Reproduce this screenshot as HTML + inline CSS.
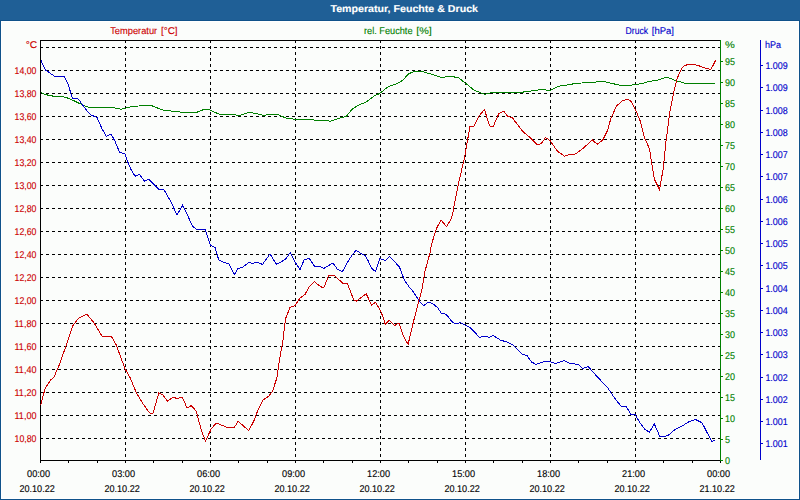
<!DOCTYPE html>
<html><head><meta charset="utf-8"><style>
html,body{margin:0;padding:0;background:#fff;}
svg{display:block;font-family:"Liberation Sans", sans-serif;text-rendering:geometricPrecision;}
</style></head><body>
<svg width="800" height="500" viewBox="0 0 800 500">
<rect x="0" y="0" width="800" height="500" fill="#ffffff"/>
<rect x="2" y="22" width="796" height="476" fill="#fbfdfb"/>
<rect x="0" y="0" width="800" height="20" fill="#1f5f96"/>
<rect x="0" y="20" width="800" height="1" fill="#0f528a"/>
<rect x="0" y="20" width="1" height="480" fill="#0f528a"/>
<rect x="799" y="20" width="1" height="480" fill="#0f528a"/>
<rect x="0" y="499" width="800" height="1" fill="#0f528a"/>
<text x="330.5" y="12" fill="#ffffff" stroke="#ffffff" stroke-width="0.12" font-size="10" font-weight="bold" text-anchor="start" textLength="147.5" lengthAdjust="spacingAndGlyphs">Temperatur, Feuchte &amp; Druck</text>
<text x="110.2" y="34" fill="#cc0000" stroke="#cc0000" stroke-width="0.12" font-size="9.8" font-weight="normal" text-anchor="start" textLength="47" lengthAdjust="spacingAndGlyphs">Temperatur</text>
<text x="161" y="34" fill="#cc0000" stroke="#cc0000" stroke-width="0.12" font-size="9.8" font-weight="normal" text-anchor="start" textLength="16.6" lengthAdjust="spacingAndGlyphs">[°C]</text>
<text x="364" y="34" fill="#008000" stroke="#008000" stroke-width="0.12" font-size="9.8" font-weight="normal" text-anchor="start" textLength="48.5" lengthAdjust="spacingAndGlyphs">rel. Feuchte</text>
<text x="416.2" y="34" fill="#008000" stroke="#008000" stroke-width="0.12" font-size="9.8" font-weight="normal" text-anchor="start" textLength="15.6" lengthAdjust="spacingAndGlyphs">[%]</text>
<text x="625.5" y="34" fill="#0000cc" stroke="#0000cc" stroke-width="0.12" font-size="9.8" font-weight="normal" text-anchor="start" textLength="22.6" lengthAdjust="spacingAndGlyphs">Druck</text>
<text x="651.8" y="34" fill="#0000cc" stroke="#0000cc" stroke-width="0.12" font-size="9.8" font-weight="normal" text-anchor="start" textLength="22.2" lengthAdjust="spacingAndGlyphs">[hPa]</text>
<path d="M40 47.5H720 M40 70.5H720 M40 93.5H720 M40 116.5H720 M40 139.5H720 M40 162.5H720 M40 185.5H720 M40 208.5H720 M40 231.5H720 M40 254.5H720 M40 277.5H720 M40 300.5H720 M40 323.5H720 M40 346.5H720 M40 369.5H720 M40 392.5H720 M40 415.5H720 M40 438.5H720 M125.5 40V460 M210.5 40V460 M295.5 40V460 M380.5 40V460 M465.5 40V460 M550.5 40V460 M635.5 40V460" stroke="#000" stroke-width="1" stroke-dasharray="3 3" fill="none"/>
<path d="M40.5 40V460.5H720M40 40.5H720" stroke="#000" stroke-width="1" fill="none"/>
<path d="M40.5 460V463 M68.5 460V463 M97.5 460V463 M125.5 460V463 M153.5 460V463 M182.5 460V463 M210.5 460V463 M238.5 460V463 M267.5 460V463 M295.5 460V463 M323.5 460V463 M352.5 460V463 M380.5 460V463 M408.5 460V463 M437.5 460V463 M465.5 460V463 M493.5 460V463 M522.5 460V463 M550.5 460V463 M578.5 460V463 M607.5 460V463 M635.5 460V463 M663.5 460V463 M692.5 460V463 M720.5 460V463" stroke="#000" stroke-width="1" fill="none"/>
<path d="M720.5 40V461 M720 460.5H723 M720 439.5H723 M720 418.5H723 M720 397.5H723 M720 376.5H723 M720 355.5H723 M720 334.5H723 M720 313.5H723 M720 292.5H723 M720 271.5H723 M720 250.5H723 M720 229.5H723 M720 208.5H723 M720 187.5H723 M720 166.5H723 M720 145.5H723 M720 124.5H723 M720 103.5H723 M720 82.5H723 M720 61.5H723" stroke="#008000" stroke-width="1" fill="none"/>
<path d="M760.5 40V460 M760 65.5H763 M760 87.5H763 M760 110.5H763 M760 132.5H763 M760 154.5H763 M760 176.5H763 M760 199.5H763 M760 221.5H763 M760 243.5H763 M760 265.5H763 M760 288.5H763 M760 310.5H763 M760 332.5H763 M760 354.5H763 M760 377.5H763 M760 399.5H763 M760 421.5H763 M760 443.5H763" stroke="#0000cc" stroke-width="1" fill="none"/>
<text x="37.2" y="48" fill="#cc0000" stroke="#cc0000" stroke-width="0.12" font-size="9.8" font-weight="normal" text-anchor="end" textLength="11.5" lengthAdjust="spacingAndGlyphs">°C</text>
<text x="36.5" y="74" fill="#cc0000" stroke="#cc0000" stroke-width="0.12" font-size="9.8" font-weight="normal" text-anchor="end" textLength="22" lengthAdjust="spacingAndGlyphs">14,00</text>
<text x="36.5" y="97" fill="#cc0000" stroke="#cc0000" stroke-width="0.12" font-size="9.8" font-weight="normal" text-anchor="end" textLength="22" lengthAdjust="spacingAndGlyphs">13,80</text>
<text x="36.5" y="120" fill="#cc0000" stroke="#cc0000" stroke-width="0.12" font-size="9.8" font-weight="normal" text-anchor="end" textLength="22" lengthAdjust="spacingAndGlyphs">13,60</text>
<text x="36.5" y="143" fill="#cc0000" stroke="#cc0000" stroke-width="0.12" font-size="9.8" font-weight="normal" text-anchor="end" textLength="22" lengthAdjust="spacingAndGlyphs">13,40</text>
<text x="36.5" y="166" fill="#cc0000" stroke="#cc0000" stroke-width="0.12" font-size="9.8" font-weight="normal" text-anchor="end" textLength="22" lengthAdjust="spacingAndGlyphs">13,20</text>
<text x="36.5" y="189" fill="#cc0000" stroke="#cc0000" stroke-width="0.12" font-size="9.8" font-weight="normal" text-anchor="end" textLength="22" lengthAdjust="spacingAndGlyphs">13,00</text>
<text x="36.5" y="212" fill="#cc0000" stroke="#cc0000" stroke-width="0.12" font-size="9.8" font-weight="normal" text-anchor="end" textLength="22" lengthAdjust="spacingAndGlyphs">12,80</text>
<text x="36.5" y="235" fill="#cc0000" stroke="#cc0000" stroke-width="0.12" font-size="9.8" font-weight="normal" text-anchor="end" textLength="22" lengthAdjust="spacingAndGlyphs">12,60</text>
<text x="36.5" y="258" fill="#cc0000" stroke="#cc0000" stroke-width="0.12" font-size="9.8" font-weight="normal" text-anchor="end" textLength="22" lengthAdjust="spacingAndGlyphs">12,40</text>
<text x="36.5" y="281" fill="#cc0000" stroke="#cc0000" stroke-width="0.12" font-size="9.8" font-weight="normal" text-anchor="end" textLength="22" lengthAdjust="spacingAndGlyphs">12,20</text>
<text x="36.5" y="304" fill="#cc0000" stroke="#cc0000" stroke-width="0.12" font-size="9.8" font-weight="normal" text-anchor="end" textLength="22" lengthAdjust="spacingAndGlyphs">12,00</text>
<text x="36.5" y="327" fill="#cc0000" stroke="#cc0000" stroke-width="0.12" font-size="9.8" font-weight="normal" text-anchor="end" textLength="22" lengthAdjust="spacingAndGlyphs">11,80</text>
<text x="36.5" y="350" fill="#cc0000" stroke="#cc0000" stroke-width="0.12" font-size="9.8" font-weight="normal" text-anchor="end" textLength="22" lengthAdjust="spacingAndGlyphs">11,60</text>
<text x="36.5" y="373" fill="#cc0000" stroke="#cc0000" stroke-width="0.12" font-size="9.8" font-weight="normal" text-anchor="end" textLength="22" lengthAdjust="spacingAndGlyphs">11,40</text>
<text x="36.5" y="396" fill="#cc0000" stroke="#cc0000" stroke-width="0.12" font-size="9.8" font-weight="normal" text-anchor="end" textLength="22" lengthAdjust="spacingAndGlyphs">11,20</text>
<text x="36.5" y="419" fill="#cc0000" stroke="#cc0000" stroke-width="0.12" font-size="9.8" font-weight="normal" text-anchor="end" textLength="22" lengthAdjust="spacingAndGlyphs">11,00</text>
<text x="36.5" y="442" fill="#cc0000" stroke="#cc0000" stroke-width="0.12" font-size="9.8" font-weight="normal" text-anchor="end" textLength="22" lengthAdjust="spacingAndGlyphs">10,80</text>
<text x="725" y="48" fill="#008000" stroke="#008000" stroke-width="0.12" font-size="9.8" font-weight="normal" text-anchor="start" textLength="9.8" lengthAdjust="spacingAndGlyphs">%</text>
<text x="725" y="464" fill="#008000" stroke="#008000" stroke-width="0.12" font-size="9.8" font-weight="normal" text-anchor="start" textLength="5" lengthAdjust="spacingAndGlyphs">0</text>
<text x="725" y="443" fill="#008000" stroke="#008000" stroke-width="0.12" font-size="9.8" font-weight="normal" text-anchor="start" textLength="5" lengthAdjust="spacingAndGlyphs">5</text>
<text x="725" y="422" fill="#008000" stroke="#008000" stroke-width="0.12" font-size="9.8" font-weight="normal" text-anchor="start" textLength="10" lengthAdjust="spacingAndGlyphs">10</text>
<text x="725" y="401" fill="#008000" stroke="#008000" stroke-width="0.12" font-size="9.8" font-weight="normal" text-anchor="start" textLength="10" lengthAdjust="spacingAndGlyphs">15</text>
<text x="725" y="380" fill="#008000" stroke="#008000" stroke-width="0.12" font-size="9.8" font-weight="normal" text-anchor="start" textLength="10" lengthAdjust="spacingAndGlyphs">20</text>
<text x="725" y="359" fill="#008000" stroke="#008000" stroke-width="0.12" font-size="9.8" font-weight="normal" text-anchor="start" textLength="10" lengthAdjust="spacingAndGlyphs">25</text>
<text x="725" y="338" fill="#008000" stroke="#008000" stroke-width="0.12" font-size="9.8" font-weight="normal" text-anchor="start" textLength="10" lengthAdjust="spacingAndGlyphs">30</text>
<text x="725" y="317" fill="#008000" stroke="#008000" stroke-width="0.12" font-size="9.8" font-weight="normal" text-anchor="start" textLength="10" lengthAdjust="spacingAndGlyphs">35</text>
<text x="725" y="296" fill="#008000" stroke="#008000" stroke-width="0.12" font-size="9.8" font-weight="normal" text-anchor="start" textLength="10" lengthAdjust="spacingAndGlyphs">40</text>
<text x="725" y="275" fill="#008000" stroke="#008000" stroke-width="0.12" font-size="9.8" font-weight="normal" text-anchor="start" textLength="10" lengthAdjust="spacingAndGlyphs">45</text>
<text x="725" y="254" fill="#008000" stroke="#008000" stroke-width="0.12" font-size="9.8" font-weight="normal" text-anchor="start" textLength="10" lengthAdjust="spacingAndGlyphs">50</text>
<text x="725" y="233" fill="#008000" stroke="#008000" stroke-width="0.12" font-size="9.8" font-weight="normal" text-anchor="start" textLength="10" lengthAdjust="spacingAndGlyphs">55</text>
<text x="725" y="212" fill="#008000" stroke="#008000" stroke-width="0.12" font-size="9.8" font-weight="normal" text-anchor="start" textLength="10" lengthAdjust="spacingAndGlyphs">60</text>
<text x="725" y="191" fill="#008000" stroke="#008000" stroke-width="0.12" font-size="9.8" font-weight="normal" text-anchor="start" textLength="10" lengthAdjust="spacingAndGlyphs">65</text>
<text x="725" y="170" fill="#008000" stroke="#008000" stroke-width="0.12" font-size="9.8" font-weight="normal" text-anchor="start" textLength="10" lengthAdjust="spacingAndGlyphs">70</text>
<text x="725" y="149" fill="#008000" stroke="#008000" stroke-width="0.12" font-size="9.8" font-weight="normal" text-anchor="start" textLength="10" lengthAdjust="spacingAndGlyphs">75</text>
<text x="725" y="128" fill="#008000" stroke="#008000" stroke-width="0.12" font-size="9.8" font-weight="normal" text-anchor="start" textLength="10" lengthAdjust="spacingAndGlyphs">80</text>
<text x="725" y="107" fill="#008000" stroke="#008000" stroke-width="0.12" font-size="9.8" font-weight="normal" text-anchor="start" textLength="10" lengthAdjust="spacingAndGlyphs">85</text>
<text x="725" y="86" fill="#008000" stroke="#008000" stroke-width="0.12" font-size="9.8" font-weight="normal" text-anchor="start" textLength="10" lengthAdjust="spacingAndGlyphs">90</text>
<text x="725" y="65" fill="#008000" stroke="#008000" stroke-width="0.12" font-size="9.8" font-weight="normal" text-anchor="start" textLength="10" lengthAdjust="spacingAndGlyphs">95</text>
<text x="765" y="48" fill="#0000cc" stroke="#0000cc" stroke-width="0.12" font-size="9.8" font-weight="normal" text-anchor="start" textLength="16" lengthAdjust="spacingAndGlyphs">hPa</text>
<text x="765.4" y="69" fill="#0000cc" stroke="#0000cc" stroke-width="0.12" font-size="9.8" font-weight="normal" text-anchor="start" textLength="22.4" lengthAdjust="spacingAndGlyphs">1.009</text>
<text x="765.4" y="91" fill="#0000cc" stroke="#0000cc" stroke-width="0.12" font-size="9.8" font-weight="normal" text-anchor="start" textLength="22.4" lengthAdjust="spacingAndGlyphs">1.009</text>
<text x="765.4" y="114" fill="#0000cc" stroke="#0000cc" stroke-width="0.12" font-size="9.8" font-weight="normal" text-anchor="start" textLength="22.4" lengthAdjust="spacingAndGlyphs">1.008</text>
<text x="765.4" y="136" fill="#0000cc" stroke="#0000cc" stroke-width="0.12" font-size="9.8" font-weight="normal" text-anchor="start" textLength="22.4" lengthAdjust="spacingAndGlyphs">1.008</text>
<text x="765.4" y="158" fill="#0000cc" stroke="#0000cc" stroke-width="0.12" font-size="9.8" font-weight="normal" text-anchor="start" textLength="22.4" lengthAdjust="spacingAndGlyphs">1.007</text>
<text x="765.4" y="180" fill="#0000cc" stroke="#0000cc" stroke-width="0.12" font-size="9.8" font-weight="normal" text-anchor="start" textLength="22.4" lengthAdjust="spacingAndGlyphs">1.007</text>
<text x="765.4" y="203" fill="#0000cc" stroke="#0000cc" stroke-width="0.12" font-size="9.8" font-weight="normal" text-anchor="start" textLength="22.4" lengthAdjust="spacingAndGlyphs">1.006</text>
<text x="765.4" y="225" fill="#0000cc" stroke="#0000cc" stroke-width="0.12" font-size="9.8" font-weight="normal" text-anchor="start" textLength="22.4" lengthAdjust="spacingAndGlyphs">1.006</text>
<text x="765.4" y="247" fill="#0000cc" stroke="#0000cc" stroke-width="0.12" font-size="9.8" font-weight="normal" text-anchor="start" textLength="22.4" lengthAdjust="spacingAndGlyphs">1.005</text>
<text x="765.4" y="269" fill="#0000cc" stroke="#0000cc" stroke-width="0.12" font-size="9.8" font-weight="normal" text-anchor="start" textLength="22.4" lengthAdjust="spacingAndGlyphs">1.005</text>
<text x="765.4" y="292" fill="#0000cc" stroke="#0000cc" stroke-width="0.12" font-size="9.8" font-weight="normal" text-anchor="start" textLength="22.4" lengthAdjust="spacingAndGlyphs">1.004</text>
<text x="765.4" y="314" fill="#0000cc" stroke="#0000cc" stroke-width="0.12" font-size="9.8" font-weight="normal" text-anchor="start" textLength="22.4" lengthAdjust="spacingAndGlyphs">1.004</text>
<text x="765.4" y="336" fill="#0000cc" stroke="#0000cc" stroke-width="0.12" font-size="9.8" font-weight="normal" text-anchor="start" textLength="22.4" lengthAdjust="spacingAndGlyphs">1.003</text>
<text x="765.4" y="358" fill="#0000cc" stroke="#0000cc" stroke-width="0.12" font-size="9.8" font-weight="normal" text-anchor="start" textLength="22.4" lengthAdjust="spacingAndGlyphs">1.003</text>
<text x="765.4" y="381" fill="#0000cc" stroke="#0000cc" stroke-width="0.12" font-size="9.8" font-weight="normal" text-anchor="start" textLength="22.4" lengthAdjust="spacingAndGlyphs">1.002</text>
<text x="765.4" y="403" fill="#0000cc" stroke="#0000cc" stroke-width="0.12" font-size="9.8" font-weight="normal" text-anchor="start" textLength="22.4" lengthAdjust="spacingAndGlyphs">1.002</text>
<text x="765.4" y="425" fill="#0000cc" stroke="#0000cc" stroke-width="0.12" font-size="9.8" font-weight="normal" text-anchor="start" textLength="22.4" lengthAdjust="spacingAndGlyphs">1.001</text>
<text x="765.4" y="447" fill="#0000cc" stroke="#0000cc" stroke-width="0.12" font-size="9.8" font-weight="normal" text-anchor="start" textLength="22.4" lengthAdjust="spacingAndGlyphs">1.001</text>
<text x="38.6" y="477" fill="#000" stroke="#000" stroke-width="0.12" font-size="9.8" font-weight="normal" text-anchor="middle" textLength="23" lengthAdjust="spacingAndGlyphs">00:00</text>
<text x="37.1" y="492" fill="#000" stroke="#000" stroke-width="0.12" font-size="9.8" font-weight="normal" text-anchor="middle" textLength="35.4" lengthAdjust="spacingAndGlyphs">20.10.22</text>
<text x="123.6" y="477" fill="#000" stroke="#000" stroke-width="0.12" font-size="9.8" font-weight="normal" text-anchor="middle" textLength="23" lengthAdjust="spacingAndGlyphs">03:00</text>
<text x="122.1" y="492" fill="#000" stroke="#000" stroke-width="0.12" font-size="9.8" font-weight="normal" text-anchor="middle" textLength="35.4" lengthAdjust="spacingAndGlyphs">20.10.22</text>
<text x="208.6" y="477" fill="#000" stroke="#000" stroke-width="0.12" font-size="9.8" font-weight="normal" text-anchor="middle" textLength="23" lengthAdjust="spacingAndGlyphs">06:00</text>
<text x="207.1" y="492" fill="#000" stroke="#000" stroke-width="0.12" font-size="9.8" font-weight="normal" text-anchor="middle" textLength="35.4" lengthAdjust="spacingAndGlyphs">20.10.22</text>
<text x="293.6" y="477" fill="#000" stroke="#000" stroke-width="0.12" font-size="9.8" font-weight="normal" text-anchor="middle" textLength="23" lengthAdjust="spacingAndGlyphs">09:00</text>
<text x="292.1" y="492" fill="#000" stroke="#000" stroke-width="0.12" font-size="9.8" font-weight="normal" text-anchor="middle" textLength="35.4" lengthAdjust="spacingAndGlyphs">20.10.22</text>
<text x="378.6" y="477" fill="#000" stroke="#000" stroke-width="0.12" font-size="9.8" font-weight="normal" text-anchor="middle" textLength="23" lengthAdjust="spacingAndGlyphs">12:00</text>
<text x="377.1" y="492" fill="#000" stroke="#000" stroke-width="0.12" font-size="9.8" font-weight="normal" text-anchor="middle" textLength="35.4" lengthAdjust="spacingAndGlyphs">20.10.22</text>
<text x="463.6" y="477" fill="#000" stroke="#000" stroke-width="0.12" font-size="9.8" font-weight="normal" text-anchor="middle" textLength="23" lengthAdjust="spacingAndGlyphs">15:00</text>
<text x="462.1" y="492" fill="#000" stroke="#000" stroke-width="0.12" font-size="9.8" font-weight="normal" text-anchor="middle" textLength="35.4" lengthAdjust="spacingAndGlyphs">20.10.22</text>
<text x="548.6" y="477" fill="#000" stroke="#000" stroke-width="0.12" font-size="9.8" font-weight="normal" text-anchor="middle" textLength="23" lengthAdjust="spacingAndGlyphs">18:00</text>
<text x="547.1" y="492" fill="#000" stroke="#000" stroke-width="0.12" font-size="9.8" font-weight="normal" text-anchor="middle" textLength="35.4" lengthAdjust="spacingAndGlyphs">20.10.22</text>
<text x="633.6" y="477" fill="#000" stroke="#000" stroke-width="0.12" font-size="9.8" font-weight="normal" text-anchor="middle" textLength="23" lengthAdjust="spacingAndGlyphs">21:00</text>
<text x="632.1" y="492" fill="#000" stroke="#000" stroke-width="0.12" font-size="9.8" font-weight="normal" text-anchor="middle" textLength="35.4" lengthAdjust="spacingAndGlyphs">20.10.22</text>
<text x="718.6" y="477" fill="#000" stroke="#000" stroke-width="0.12" font-size="9.8" font-weight="normal" text-anchor="middle" textLength="23" lengthAdjust="spacingAndGlyphs">00:00</text>
<text x="717.1" y="492" fill="#000" stroke="#000" stroke-width="0.12" font-size="9.8" font-weight="normal" text-anchor="middle" textLength="35.4" lengthAdjust="spacingAndGlyphs">21.10.22</text>
<path d="M41 92.5 L45 94.5 L53.75 96.25 L61.25 96.25 L67.5 98 L75 101.25 L83.75 105.5 L91.25 108 L100 107 L112.5 107.5 L121.25 109.25 L132.5 106.25 L151.25 105.5 L162.5 110 L180 112 L197.5 112 L205 109 L210 110 L218.75 114 L230 114.25 L240 115.5 L248.75 112.5 L255 113.25 L263.75 115.5 L268.75 114.25 L277.5 114.25 L286.25 118.25 L295 119.25 L310 119.25 L318.75 120.75 L323.75 120 L330 121.25 L337.5 118.75 L346.25 116.25 L352.5 108.75 L358.75 105 L366.25 102 L373.75 96.25 L380 93.25 L388.75 86.25 L395 84.5 L402.5 80.5 L408.75 73.75 L415 71.25 L421.25 71.25 L430 73.75 L441.25 77.5 L451.25 76.25 L458.75 78 L466.25 83.75 L473.75 90 L484.5 94.25 L492.5 92.5 L507.5 92.5 L520 92.5 L532.5 90.75 L542.5 89.5 L550 90.5 L558.75 86.25 L567.5 85 L576.25 83.25 L592.5 82.5 L602.5 81.25 L610 83 L619.5 85.1 L631.7 85.1 L642 83.6 L649.5 81.35 L657 80.4 L662.7 78.2 L667.4 77.2 L674 80 L679.6 81.7 L685.2 83.3 L715.2 83.3" stroke="#008000" stroke-width="1" fill="none" shape-rendering="crispEdges"/>
<path d="M41 60.5 L45.5 70 L54.5 76.25 L64.25 76.25 L68 83.75 L72.5 98.75 L77 98 L80 101.25 L86.25 110 L91.25 115 L97 117.5 L102 128.75 L106.25 136.25 L111.25 134.25 L115 141.25 L119.5 152 L125 154 L127.5 161.25 L131.25 170 L135 176.25 L139.5 174.25 L144.5 181.25 L148.75 179.25 L153.75 184.25 L158.75 189.25 L163.75 189.25 L171.25 202.5 L177 215 L182.5 205.5 L187.5 215 L192.5 226.25 L197.5 230 L205 229.5 L207.5 236.25 L210.5 245.5 L215 247.5 L218.75 260 L223 262 L228.75 263.75 L234.4 274.4 L238 268.5 L243 267 L248.75 262.5 L252.5 263.4 L257 262 L262.5 264.4 L270 254 L276.5 264.4 L281 262 L286 258.75 L290.25 252.5 L295 262 L300 269.5 L304.4 259.4 L309.4 258.5 L314.4 266.25 L320 266.25 L323.75 268.5 L333 263 L337.5 269.4 L342.5 271.5 L347.5 262.5 L351.9 255.25 L356.25 250.25 L361.25 253.75 L365 255.6 L368 260.6 L372 268.75 L375.6 271.5 L380 258.5 L385.6 260.6 L389.4 256.25 L399.5 267 L404.5 280.5 L410 288 L412.5 290.6 L419.4 301.25 L423.75 305.6 L428.1 302.25 L432.5 303.5 L437.5 307.5 L441.25 313.1 L446.25 314.4 L452.5 322.25 L456.25 324 L460 322.5 L470 327.5 L479.6 337.4 L484 336 L489 337.4 L493 335.4 L501 340.4 L506 341.6 L513 345 L522 354 L527 355.6 L531.6 362 L536 364.4 L544 361.6 L550 361.6 L555.6 363.4 L564 360.6 L570 363.4 L578 364.4 L583 368.6 L588 366.4 L598 377.6 L607.5 387.5 L613.5 396.5 L621 406.25 L626.25 406.5 L630.75 414.2 L635.25 414.8 L640.5 423.5 L645 429.5 L649.5 432.2 L654.3 423.8 L659.7 436.25 L664.5 436.7 L669 434.75 L675 429.5 L682.5 425.75 L688.5 422 L695.25 419.45 L702 422.75 L711.75 441.5 L714.75 440.3" stroke="#0000cc" stroke-width="1" fill="none" shape-rendering="crispEdges"/>
<path d="M40.75 405 L45 388.75 L50.5 380 L53.75 377.5 L58.75 366.25 L65 348.75 L72.5 326.25 L78.75 318 L87 314.25 L93.75 322.5 L102 336.25 L107.5 337 L111.25 336.25 L116.25 345 L125 368.75 L130 377.5 L136.25 392.5 L143 403.75 L149.5 413 L153 413.25 L158.75 393 L163 395 L167.5 401.25 L172.5 397.5 L177 398.25 L182.5 397.5 L187 408 L191.25 405.5 L196.25 411.25 L201.25 430 L205.5 441.25 L211.25 428.75 L216.25 423 L222.5 425.5 L228.75 428 L234.5 427 L238.25 421.25 L243.75 426.25 L248.75 430.5 L253.75 421.25 L257.5 411.25 L263 400 L268.75 396.25 L272.5 391.25 L277 377.5 L279.5 360 L283 340 L285.5 318.75 L290 307.5 L295 305.5 L300 298 L305 294.5 L309.5 286.25 L314.5 281.75 L320 286.25 L323.75 288 L328.75 275.5 L334.5 275.5 L342.5 283 L347.5 283.75 L353.75 300 L356.25 301.25 L366.25 293.75 L371.5 305.25 L375.6 302.25 L380 310 L382.5 315.6 L385.25 324.4 L389.4 320.25 L394.4 325.6 L399 323.1 L403.1 335.6 L408.1 344.4 L413.1 323.1 L418.75 301.25 L421.9 290 L425 271.25 L430.25 251.9 L431.5 244.4 L435 233.1 L437.5 226.25 L441.25 220.25 L446.5 226.5 L451.25 218.75 L452.5 214.4 L454.75 202.5 L458.75 182.5 L464.5 157.5 L470 126.25 L473.75 126.25 L478.75 116.25 L484.5 109.5 L489.5 125.75 L493 127 L498.75 113.75 L503.75 111.25 L507.5 116.25 L512.5 118 L522.5 131.25 L530 137.5 L537 144.5 L541.25 143.75 L545.5 137.5 L550 140.5 L557.5 151.25 L564.5 156.25 L570 154.25 L575 154.25 L582.5 148.75 L592.4 140 L597.2 144.3 L602.8 140 L607.6 130.4 L611 118 L616.65 105.8 L622.3 101 L627.4 99.2 L630.75 101 L635.45 109.5 L640.15 120.8 L644.4 137.6 L649.5 148.8 L651.6 162.4 L654.3 179.2 L659.6 189.6 L663.3 168 L666 141.6 L669.85 111.4 L674.2 89.8 L677.5 77.6 L681.5 68.7 L683.6 66.3 L687.6 64.5 L694.1 64.5 L700.6 66.3 L705.5 68.3 L710.8 69.5 L713.7 64.2 L715.7 60.2" stroke="#cc0000" stroke-width="1" fill="none" shape-rendering="crispEdges"/>
</svg>
</body></html>
